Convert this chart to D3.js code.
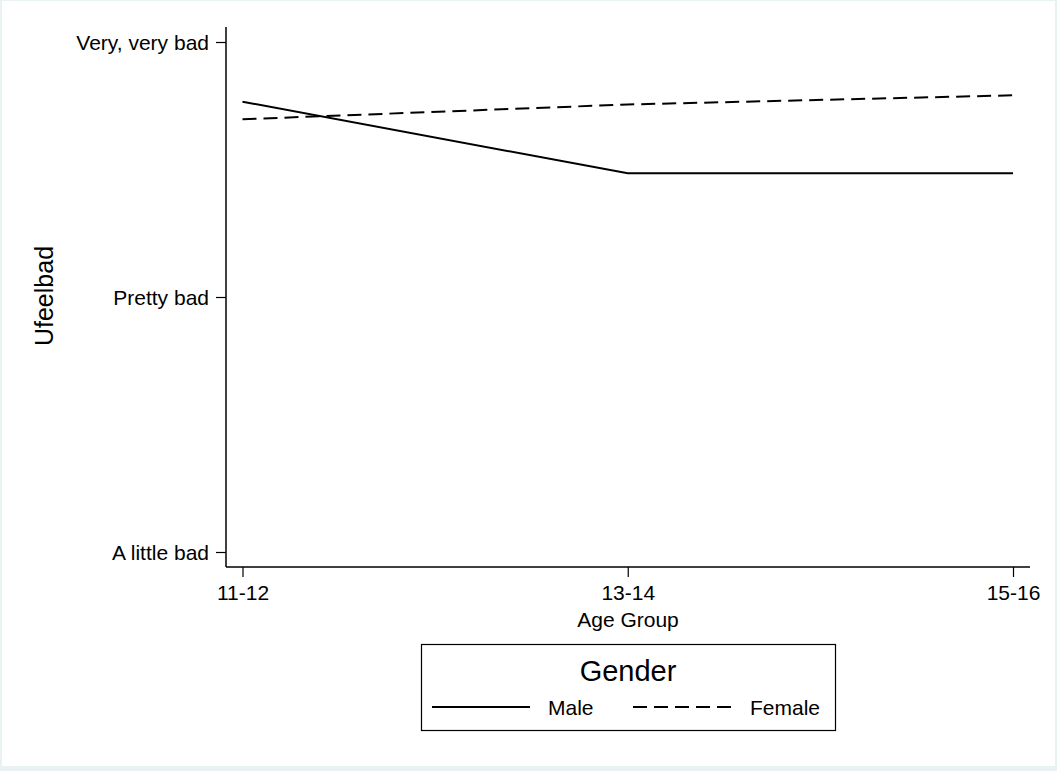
<!DOCTYPE html>
<html>
<head>
<meta charset="utf-8">
<script src="https://cdn.jsdelivr.net/npm/d3@7"></script>
<style>
  body { margin: 0; background: #eaf1f3; }
  text { font-family: "Liberation Sans", Arial, Helvetica, sans-serif; fill: #000; }
</style>
</head>
<body>
<div id="chart"></div>
<script>
// age groups and mean ufeelbad score (1 = a little bad .. 3 = very, very bad)
var ageGroups = ["11-12", "13-14", "15-16"];
var maleValues = [2.766, 2.485, 2.485];
var femaleValues = [2.697, 2.755, 2.791];
var yTickValues = [1, 2, 3];
var yTickLabels = ["A little bad", "Pretty bad", "Very, very bad"];
var seriesNames = ["Male", "Female"];

var W = 1057, H = 771;

var svg = d3.select("#chart")
  .append("svg")
    .attr("width", W)
    .attr("height", H)
    .style("display", "block");

// white plot region inside the light border
svg.append("rect")
    .attr("x", 2).attr("y", 1)
    .attr("width", 1053).attr("height", 765)
    .attr("fill", "#fff");

var x = d3.scalePoint()
    .domain(ageGroups)
    .range([242.5, 1013]);

var y = d3.scaleLinear()
    .domain([1, 3])
    .range([552, 42]);

var axisLeftX = 226, axisBottomY = 567;

// axes lines
svg.append("line")
    .attr("x1", axisLeftX).attr("x2", axisLeftX)
    .attr("y1", 27).attr("y2", axisBottomY)
    .attr("stroke", "#000").attr("stroke-width", 1.5);
svg.append("line")
    .attr("x1", axisLeftX).attr("x2", 1030)
    .attr("y1", axisBottomY).attr("y2", axisBottomY)
    .attr("stroke", "#000").attr("stroke-width", 1.5);

var yAxis = svg.append("g")
    .attr("transform", "translate(" + axisLeftX + ",0)")
    .call(d3.axisLeft(y)
      .tickValues(yTickValues)
      .tickFormat(function(d, i) { return yTickLabels[i]; })
      .tickSize(10)
      .tickPadding(7));
yAxis.select(".domain").remove();
yAxis.selectAll("line").attr("stroke-width", 1.2);
yAxis.selectAll("text")
    .style("font-size", "21px")
    .attr("dy", "0.35em");

var xAxis = svg.append("g")
    .attr("transform", "translate(0," + axisBottomY + ")")
    .call(d3.axisBottom(x)
      .tickSize(10)
      .tickPadding(8));
xAxis.select(".domain").remove();
xAxis.selectAll("line").attr("stroke-width", 1.2);
xAxis.selectAll("text")
    .style("font-size", "21px");

// axis titles
svg.append("text")
    .attr("x", 628).attr("y", 627)
    .attr("text-anchor", "middle")
    .style("font-size", "21px")
    .text("Age Group");

svg.append("text")
    .attr("transform", "translate(53,296) rotate(-90)")
    .attr("text-anchor", "middle")
    .style("font-size", "25px")
    .text("Ufeelbad");

// series lines
var line = d3.line()
    .x(function(d, i) { return x(ageGroups[i]); })
    .y(function(d) { return y(d); });

svg.append("path")
    .datum(maleValues)
    .attr("d", line)
    .attr("fill", "none")
    .attr("stroke", "#000")
    .attr("stroke-width", 2);

svg.append("path")
    .datum(femaleValues)
    .attr("d", line)
    .attr("fill", "none")
    .attr("stroke", "#000")
    .attr("stroke-width", 2)
    .attr("stroke-dasharray", "14,7");

// legend
var legend = svg.append("g");
legend.append("rect")
    .attr("x", 421.5).attr("y", 644.5)
    .attr("width", 414).attr("height", 86)
    .attr("fill", "#fff")
    .attr("stroke", "#000")
    .attr("stroke-width", 1.2);

legend.append("text")
    .attr("x", 628).attr("y", 681)
    .attr("text-anchor", "middle")
    .style("font-size", "29px")
    .text("Gender");

var legendItems = [
  {x1: 432, x2: 530, tx: 548, dash: null},
  {x1: 633, x2: 733, tx: 750, dash: "14,7"}
];
legendItems.forEach(function(it, i) {
  legend.append("line")
      .attr("x1", it.x1).attr("x2", it.x2)
      .attr("y1", 707).attr("y2", 707)
      .attr("stroke", "#000")
      .attr("stroke-width", 2)
      .attr("stroke-dasharray", it.dash);
  legend.append("text")
      .attr("x", it.tx).attr("y", 715)
      .style("font-size", "21px")
      .text(seriesNames[i]);
});
</script>
</body>
</html>
